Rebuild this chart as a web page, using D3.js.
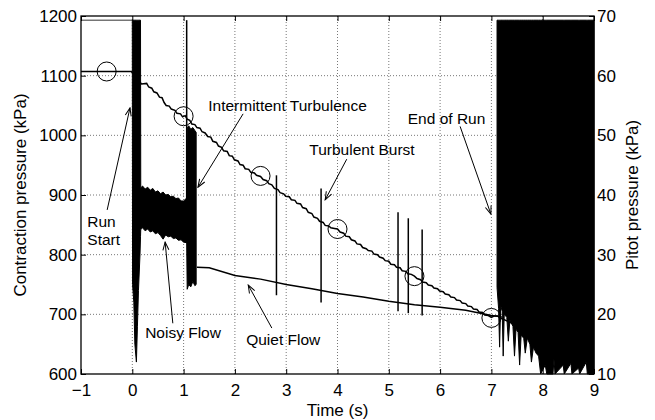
<!DOCTYPE html>
<html>
<head>
<meta charset="utf-8">
<script src="https://cdn.jsdelivr.net/npm/d3@7/dist/d3.min.js"></script>
<style>
  body { margin: 0; background: #fff; }
  svg { display: block; }
  text { font-family: "Liberation Sans", Arial, Helvetica, sans-serif; fill: #000; }
</style>
</head>
<body>
<div id="chart"></div>
<script>
// ---- data (time in s, contraction in kPa on left axis, pitot in kPa on right axis) ----
const xTicks = [-1, 0, 1, 2, 3, 4, 5, 6, 7, 8, 9];
const leftTicks = [600, 700, 800, 900, 1000, 1100, 1200];
const rightTicks = [10, 20, 30, 40, 50, 60, 70];

// contraction pressure, stair-stepping decay
const contraction = [
  [-1, 1107], [-0.02, 1107], [0.05, 1100], [0.12, 1092], [0.18, 1086], [0.28, 1087], [0.32, 1081],
  [0.38, 1079], [0.42, 1073], [0.48, 1071], [0.53, 1064], [0.58, 1063], [0.62, 1055], [0.66, 1050],
  [0.72, 1049], [0.76, 1044], [0.83, 1042], [0.87, 1037], [0.94, 1036], [0.98, 1031], [1.03, 1033],
  [1.07, 1027], [1.12, 1025], [1.16, 1019], [1.22, 1018], [1.26, 1013], [1.32, 1012], [1.36, 1006],
  [1.42, 1004], [1.47, 998], [1.53, 997], [1.57, 990], [1.64, 988], [1.68, 982], [1.74, 980],
  [1.78, 974], [1.85, 973], [1.89, 966], [1.95, 965], [1.99, 959], [2.06, 957], [2.1, 951],
  [2.16, 950], [2.2, 944], [2.27, 943], [2.31, 938], [2.38, 937], [2.42, 933], [2.5, 931],
  [2.55, 926], [2.62, 924], [2.66, 919], [2.72, 917], [2.77, 911], [2.84, 909], [2.88, 904],
  [2.95, 902], [2.99, 898], [3.06, 897], [3.1, 892], [3.17, 891], [3.21, 886], [3.28, 885],
  [3.32, 879], [3.39, 877], [3.43, 871], [3.5, 869], [3.54, 863], [3.61, 861], [3.65, 856],
  [3.72, 854], [3.76, 849], [3.83, 848], [3.87, 845], [3.94, 844], [4.0, 843], [4.05, 838],
  [4.12, 836], [4.16, 831], [4.23, 830], [4.27, 825], [4.34, 823], [4.38, 818], [4.45, 817],
  [4.49, 812], [4.56, 810], [4.6, 807], [4.67, 806], [4.71, 801], [4.78, 800], [4.82, 796],
  [4.89, 794], [4.93, 790], [5.0, 789], [5.04, 784], [5.11, 783], [5.15, 779], [5.22, 778],
  [5.26, 773], [5.33, 772], [5.37, 768], [5.44, 767], [5.5, 764], [5.55, 760], [5.62, 758],
  [5.66, 754], [5.73, 753], [5.77, 749], [5.84, 748], [5.88, 744], [5.95, 743], [5.99, 739],
  [6.06, 738], [6.1, 734], [6.17, 733], [6.21, 729], [6.28, 728], [6.32, 724], [6.39, 723],
  [6.43, 719], [6.5, 718], [6.54, 714], [6.61, 713], [6.65, 709], [6.72, 708], [6.76, 704],
  [6.83, 703], [6.87, 699], [6.94, 698], [7.0, 695], [7.05, 697], [7.12, 697], [7.2, 693],
  [7.3, 689], [7.45, 683]
];
const circleTimes = [-0.5, 1.0, 2.5, 4.0, 5.5, 7.0];
const circleValues = [1107, 1032, 932, 843, 764, 694];

// pitot pressure
const pitotPreRun = [[-1, 69.3], [0, 69.3]];
const pitotQuiet = [
  [1.26, 27.9], [1.5, 27.8], [2.0, 26.5], [2.5, 25.9], [3.0, 25.0], [3.5, 24.3], [4.0, 23.5],
  [4.5, 22.9], [5.0, 22.2], [5.5, 21.6], [6.0, 21.2], [6.5, 20.7], [7.0, 19.8], [7.2, 19.6]
];
// noisy stretches as [t, low, high]
const pitotStartNoise = [
  [0.0, 68, 69.3], [0.005, 25, 69.3], [0.03, 22, 69.3], [0.05, 15, 69.3], [0.08, 12, 69.3],
  [0.1, 18, 69.3], [0.12, 24, 69.3], [0.15, 30, 69.3], [0.16, 33, 69.3], [0.165, 34.2, 41.2],
  [0.2, 34.5, 41.5], [0.25, 34.0, 41.0], [0.3, 34.3, 41.3], [0.35, 33.8, 40.8], [0.4, 34.0, 41.1],
  [0.45, 33.5, 40.5], [0.5, 33.7, 40.7], [0.55, 33.2, 40.2], [0.6, 32.6, 40.5], [0.65, 33.3, 40.0],
  [0.7, 33.0, 40.1], [0.75, 33.1, 39.7], [0.8, 32.7, 39.8], [0.85, 32.8, 39.4], [0.9, 32.4, 39.5],
  [0.95, 32.5, 39.0], [1.0, 32.1, 39.0], [1.06, 32.0, 39.5], [1.07, 24.2, 51.2], [1.1, 25.0, 51.6],
  [1.14, 24.6, 51.0], [1.18, 25.5, 51.3], [1.22, 24.8, 50.8], [1.245, 25.0, 50.5]
];
const pitotEndNoise = [
  [7.11, 24.5, 69.3], [7.14, 21.0, 69.3], [7.16, 14.5, 69.3], [7.18, 21.5, 69.3], [7.21, 20.5, 69.3],
  [7.23, 13.0, 69.3], [7.25, 20.0, 69.3], [7.3, 19.5, 69.3], [7.33, 15.5, 69.3], [7.36, 19.0, 69.3],
  [7.42, 18.0, 69.3], [7.45, 13.0, 69.3], [7.48, 17.5, 69.3], [7.52, 17.0, 69.3], [7.55, 11.5, 69.3],
  [7.58, 16.5, 69.3], [7.63, 16.0, 69.3], [7.66, 13.5, 69.3], [7.7, 16.0, 69.3], [7.75, 15.0, 69.3],
  [7.78, 12.0, 69.3], [7.82, 14.5, 69.3], [7.87, 13.5, 69.3], [7.92, 13.0, 69.3], [7.96, 10.0, 69.3],
  [8.05, 11.5, 69.3], [8.08, 10.0, 69.3], [8.2, 10.0, 69.3], [8.22, 12.5, 69.3], [8.24, 10.0, 69.3],
  [8.4, 11.5, 69.3], [8.42, 10.0, 69.3], [8.55, 11.8, 69.3], [8.57, 10.0, 69.3], [8.7, 11.0, 69.3],
  [8.72, 10.0, 69.3], [8.85, 12.0, 69.3], [8.87, 10.0, 69.3], [9.0, 10.0, 69.3]
];
// isolated spikes [t, low, high]
const pitotSpikes = [
  [1.06, 32, 69.3], [2.81, 23.2, 43.3], [3.68, 22.0, 41.1],
  [5.18, 20.5, 37.1], [5.38, 20.2, 36.1], [5.65, 19.8, 34.2]
];

// annotations in data units (time, contraction kPa)
const notes = [
  { lines: ['Run', 'Start'], at: [-0.877, 846], from: [-0.49, 875], to: [-0.045, 1046] },
  { lines: ['Intermittent Turbulence'], at: [1.48, 1040], from: [2.16, 1036], to: [1.28, 913] },
  { lines: ['Turbulent Burst'], at: [3.45, 967], from: [4.18, 960], to: [3.76, 892] },
  { lines: ['End of Run'], at: [5.37, 1019], from: [6.39, 1015], to: [6.99, 868] },
  { lines: ['Noisy Flow'], at: [0.25, 660], from: [0.79, 685], to: [0.64, 821] },
  { lines: ['Quiet Flow'], at: [2.22, 649], from: [2.72, 677], to: [2.26, 749] }
];

// ---- layout ----
const W = 655, H = 420;
const margin = { top: 16, right: 61, bottom: 46, left: 81 };
const width = W - margin.left - margin.right;
const height = H - margin.top - margin.bottom;
const fs = 17;

const svg = d3.select('#chart').append('svg')
  .attr('width', W).attr('height', H);

svg.append('defs').append('marker')
  .attr('id', 'arrow')
  .attr('viewBox', '-9 -4 10 8')
  .attr('refX', 0).attr('refY', 0)
  .attr('markerUnits', 'userSpaceOnUse')
  .attr('markerWidth', 10).attr('markerHeight', 8)
  .attr('orient', 'auto')
  .append('path')
  .attr('d', 'M-8,-3L0,0L-8,3')
  .attr('fill', 'none')
  .attr('stroke', '#000')
  .attr('stroke-width', 1);

const g = svg.append('g').attr('transform', `translate(${margin.left},${margin.top})`);

const x = d3.scaleLinear().domain([-1, 9]).range([0, width]);
const yL = d3.scaleLinear().domain([600, 1200]).range([height, 0]);
const yR = d3.scaleLinear().domain([10, 70]).range([height, 0]);

// grid
const grid = g.append('g').attr('stroke', '#777').attr('stroke-width', 1).attr('stroke-dasharray', '1,2');
grid.selectAll('.gx').data(xTicks.slice(1, -1)).enter().append('line')
  .attr('x1', d => x(d)).attr('x2', d => x(d)).attr('y1', 0).attr('y2', height);
grid.selectAll('.gy').data(leftTicks.slice(1, -1)).enter().append('line')
  .attr('y1', d => yL(d)).attr('y2', d => yL(d)).attr('x1', 0).attr('x2', width);

// contraction pressure
const lineL = d3.line().x(d => x(d[0])).y(d => yL(d[1]));
const lineR = d3.line().x(d => x(d[0])).y(d => yR(d[1]));

g.append('path').datum(contraction)
  .attr('d', lineL).attr('fill', 'none').attr('stroke', '#000').attr('stroke-width', 1.5);

// pitot pressure
g.append('path').datum(pitotPreRun)
  .attr('d', lineR).attr('fill', 'none').attr('stroke', '#333').attr('stroke-width', 1);
g.append('path').datum(pitotQuiet)
  .attr('d', lineR).attr('fill', 'none').attr('stroke', '#000').attr('stroke-width', 1.5);

const band = d3.area().x(d => x(d[0])).y0(d => yR(d[1])).y1(d => yR(d[2]));
[pitotStartNoise, pitotEndNoise].forEach(seg => {
  g.append('path').datum(seg)
    .attr('d', band).attr('fill', '#000').attr('stroke', '#000').attr('stroke-width', 1);
});

g.selectAll('.spike').data(pitotSpikes).enter().append('line')
  .attr('x1', d => x(d[0])).attr('x2', d => x(d[0]))
  .attr('y1', d => yR(d[1])).attr('y2', d => yR(d[2]))
  .attr('stroke', '#000').attr('stroke-width', 1.5);

// circle markers on contraction trace
g.selectAll('.mk').data(circleTimes).enter().append('circle')
  .attr('cx', d => x(d)).attr('cy', (d, i) => yL(circleValues[i]))
  .attr('r', 9.5).attr('fill', 'none').attr('stroke', '#000').attr('stroke-width', 1);

// annotations
notes.forEach(n => {
  g.append('line')
    .attr('x1', x(n.from[0])).attr('y1', yL(n.from[1]))
    .attr('x2', x(n.to[0])).attr('y2', yL(n.to[1]))
    .attr('stroke', '#000').attr('stroke-width', 1)
    .attr('marker-end', 'url(#arrow)');
  const t = g.append('text')
    .attr('x', x(n.at[0])).attr('y', yL(n.at[1]))
    .style('font-size', '15.5px');
  n.lines.forEach((s, i) => {
    t.append('tspan').attr('x', x(n.at[0])).attr('dy', i === 0 ? 0 : 18).text(s);
  });
});

// axes
const styleAxis = sel => {
  sel.select('.domain').remove();
  sel.selectAll('.tick line').attr('stroke', '#000');
  sel.selectAll('text').style('font-size', fs + 'px').attr('fill', '#000');
};
const fmt = d3.format('d');

g.append('g').attr('transform', `translate(0,${height})`)
  .call(d3.axisBottom(x).tickValues(xTicks).tickFormat(fmt).tickSize(-5).tickPadding(10))
  .call(styleAxis);
g.append('g')
  .call(d3.axisTop(x).tickValues(xTicks).tickSize(-5).tickFormat(''))
  .call(styleAxis);
g.append('g')
  .call(d3.axisLeft(yL).tickValues(leftTicks).tickFormat(fmt).tickSize(-5).tickPadding(4))
  .call(styleAxis);
g.append('g').attr('transform', `translate(${width},0)`)
  .call(d3.axisRight(yR).tickValues(rightTicks).tickFormat(fmt).tickSize(-5).tickPadding(3))
  .call(styleAxis);

g.append('rect').attr('width', width).attr('height', height)
  .attr('fill', 'none').attr('stroke', '#000').attr('stroke-width', 1.3);

// axis titles
g.append('text')
  .attr('x', width / 2).attr('y', height + 42)
  .attr('text-anchor', 'middle').style('font-size', fs + 'px')
  .text('Time (s)');
g.append('text')
  .attr('transform', `translate(${26 - margin.left},${height / 2}) rotate(-90)`)
  .attr('text-anchor', 'middle').style('font-size', fs + 'px')
  .text('Contraction pressure (kPa)');
g.append('text')
  .attr('transform', `translate(${638 - margin.left},${height / 2}) rotate(-90)`)
  .attr('text-anchor', 'middle').style('font-size', fs + 'px')
  .text('Pitot pressure (kPa)');
</script>
</body>
</html>
